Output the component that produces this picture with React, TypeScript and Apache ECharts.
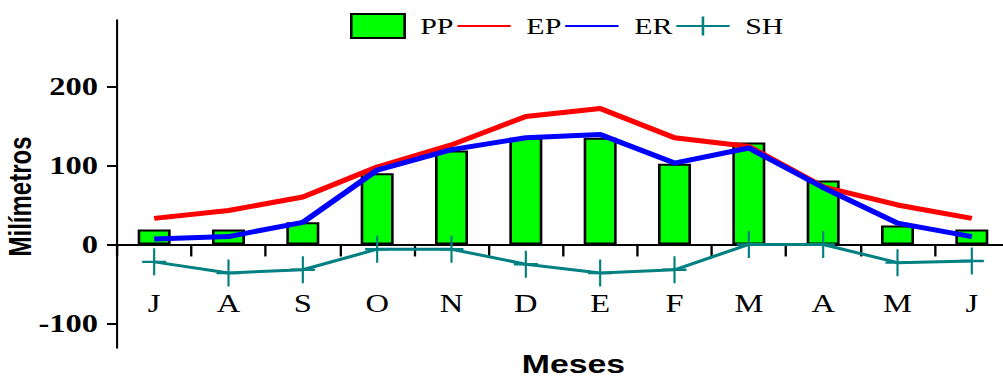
import React, { useEffect, useRef } from "react";
import * as echarts from "echarts";

// Monthly water balance (hydrological year, July to June)
const months = ["J", "A", "S", "O", "N", "D", "E", "F", "M", "A", "M", "J"];
const pp = [19, 19, 28, 90, 119, 135, 135, 102, 129, 81, 24, 19];
const ep = [33, 43, 60, 98, 126, 162, 172, 135, 124, 73, 50, 33];
const er = [7, 10, 28, 94, 120, 135, 139, 103, 122, 72, 27, 10];
const sh = [-22, -36, -32, -6, -6, -25, -36, -32, 0, 0, -23, -21];
const yTicks = [-100, 0, 100, 200];

// The chart is drawn on a narrower canvas and stretched horizontally.
const VIEW_W = 1003;
const BASE_W = 771;
const STRETCH = VIEW_W / BASE_W;
const sx = (px: number) => px / STRETCH;

const serif = "'Liberation Serif', 'Times New Roman', serif";
const sans = "'Liberation Sans', Arial, sans-serif";

export default function App() {
  const ref = useRef<HTMLDivElement>(null);

  useEffect(() => {
    if (!ref.current) return;
    const chart = echarts.init(ref.current, undefined, { renderer: "svg" });
    chart.setOption({
      animation: false,
      backgroundColor: "#ffffff",
      legend: {
        left: sx(350),
        top: 13,
        padding: 0,
        itemWidth: 41,
        itemHeight: 24,
        itemGap: 2,
        textStyle: {
          fontFamily: serif,
          fontSize: 23,
          color: "#000",
          padding: [0, 0, 0, 7],
        },
        data: [
          { name: "PP", icon: "rect" },
          { name: "EP", itemStyle: { opacity: 0 } },
          { name: "ER", itemStyle: { opacity: 0 } },
          { name: "SH" },
        ],
      },
      grid: {
        left: sx(117),
        right: BASE_W - sx(1009),
        top: 20,
        bottom: 29,
        containLabel: false,
        outerBoundsMode: "none",
      },
      xAxis: {
        type: "category",
        data: months,
        boundaryGap: true,
        name: "Meses",
        nameLocation: "middle",
        nameGap: 3,
        nameMoveOverlap: false,
        nameTextStyle: {
          fontFamily: sans,
          fontWeight: "bold",
          fontSize: 26,
          color: "#000",
          padding: [0, 0, 0, 16],
        },
        axisLine: { onZero: true, lineStyle: { color: "#000", width: 2 } },
        axisTick: {
          show: true,
          interval: 0,
          alignWithLabel: false,
          length: 12,
          lineStyle: { color: "#000", width: 1.8 },
        },
        axisLabel: {
          interval: 0,
          margin: -57,
          fontFamily: serif,
          fontSize: 25,
          color: "#000",
        },
        splitLine: { show: false },
      },
      yAxis: {
        type: "value",
        min: -131,
        max: 284,
        name: "Milímetros",
        nameLocation: "middle",
        nameRotate: 90,
        nameGap: 62,
        nameMoveOverlap: false,
        nameTextStyle: {
          fontFamily: sans,
          fontWeight: "bold",
          fontSize: 24,
          color: "#000",
          padding: [0, 25, 0, 0],
        },
        axisLine: { show: true, lineStyle: { color: "#000", width: 1.6 } },
        axisTick: {
          show: true,
          length: sx(10),
          customValues: yTicks,
          lineStyle: { color: "#000", width: 2 },
        },
        axisLabel: {
          customValues: yTicks,
          margin: sx(19),
          fontFamily: serif,
          fontWeight: "bold",
          fontSize: 25,
          color: "#000",
        },
        splitLine: { show: false },
      },
      series: [
        {
          name: "PP",
          type: "bar",
          data: pp,
          barWidth: sx(33),
          itemStyle: { color: "#00ff00", borderColor: "#000", borderWidth: 2 },
          z: 1,
        },
        {
          name: "EP",
          type: "line",
          data: ep,
          symbol: "none",
          lineStyle: { color: "#ff0000", width: 5 },
          itemStyle: { color: "#ff0000" },
          z: 2,
        },
        {
          name: "ER",
          type: "line",
          data: er,
          symbol: "none",
          lineStyle: { color: "#0000ff", width: 5 },
          itemStyle: { color: "#0000ff" },
          z: 3,
        },
        {
          name: "SH",
          type: "line",
          data: sh,
          symbol: "path://M0,-1L0,1M-1,0L1,0",
          symbolSize: [sx(24), 27],
          lineStyle: { color: "#008080", width: 3 },
          itemStyle: { color: "none", borderColor: "#008080", borderWidth: 2 },
          z: 4,
        },
      ],
    });
    return () => chart.dispose();
  }, []);

  return (
    <div
      ref={ref}
      style={{
        position: "fixed",
        left: 0,
        top: 0,
        width: BASE_W,
        height: 377,
        transform: `scaleX(${STRETCH})`,
        transformOrigin: "0 0",
      }}
    />
  );
}
